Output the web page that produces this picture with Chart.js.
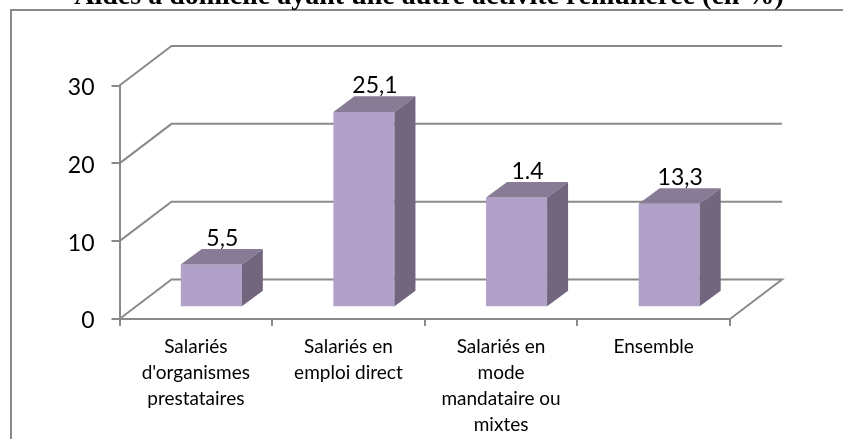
<!DOCTYPE html>
<html>
<head>
<meta charset="utf-8">
<style>
  html, body { margin: 0; padding: 0; background: #fff; overflow: hidden; }
</style>
<script src="https://cdn.jsdelivr.net/npm/chart.js@4"></script>
</head>
<body>
<canvas id="chart" width="843" height="439"></canvas>
<script>
const titleText = "Aides à domicile ayant une autre activité rémunérée (en %)"
const categories = [
  ["Salariés", "d'organismes", "prestataires"],
  ["Salariés en", "emploi direct"],
  ["Salariés en", "mode", "mandataire ou", "mixtes"],
  ["Ensemble"]
]
const values = [5.5, 25.1, 14.1, 13.3]
const valueLabels = ["5,5", "25,1", "1.4", "13,3"]
const yTicks = [0, 10, 20, 30]

// fake 3d
const wallX = 52, wallY = 39.5
const barShiftX = 15.5, barShiftY = -11.7
const barDepthX = 21, barDepthY = 15.6

const lineColor = '#8a8a8a'
const frontColor = '#b1a0c7'
const topColor = '#877b96'
const sideColor = '#72667f'

const fake3d = {
  id: 'fake3d',
  beforeDraw(chart) {
    const ctx = chart.ctx
    ctx.save()
    ctx.strokeStyle = lineColor
    ctx.lineWidth = 2
    ctx.beginPath()
    ctx.moveTo(11, 445)
    ctx.lineTo(11, 10)
    ctx.lineTo(850, 10)
    ctx.stroke()
    ctx.fillStyle = '#000'
    ctx.font = 'bold 28px "Liberation Serif"'
    ctx.textAlign = 'center'
    ctx.textBaseline = 'alphabetic'
    ctx.fillText(titleText, 429, 4)
    ctx.restore()
  },
  beforeDatasetsDraw(chart) {
    const { ctx, scales: { x, y } } = chart
    ctx.save()
    ctx.strokeStyle = lineColor
    ctx.lineWidth = 2
    yTicks.forEach(t => {
      const py = y.getPixelForValue(t)
      ctx.beginPath()
      ctx.moveTo(x.left, py)
      ctx.lineTo(x.left + wallX, py - wallY)
      ctx.lineTo(x.right + wallX, py - wallY)
      if (t === 0) ctx.lineTo(x.right, py)
      ctx.stroke()
    })
    ctx.restore()
    ctx.save()
    ctx.translate(barShiftX, barShiftY)
  },
  afterDatasetsDraw(chart) {
    const ctx = chart.ctx
    chart.getDatasetMeta(0).data.forEach((bar, i) => {
      const l = bar.x - bar.width / 2, r = bar.x + bar.width / 2
      ctx.fillStyle = topColor
      ctx.beginPath()
      ctx.moveTo(l, bar.y)
      ctx.lineTo(l + barDepthX, bar.y - barDepthY)
      ctx.lineTo(r + barDepthX, bar.y - barDepthY)
      ctx.lineTo(r, bar.y)
      ctx.closePath()
      ctx.fill()
      ctx.fillStyle = sideColor
      ctx.beginPath()
      ctx.moveTo(r, bar.y)
      ctx.lineTo(r + barDepthX, bar.y - barDepthY)
      ctx.lineTo(r + barDepthX, bar.base - barDepthY)
      ctx.lineTo(r, bar.base)
      ctx.closePath()
      ctx.fill()
      ctx.fillStyle = '#000'
      ctx.font = '23px Lato'
      ctx.textAlign = 'center'
      ctx.textBaseline = 'alphabetic'
      ctx.fillText(valueLabels[i], bar.x + 11, bar.y - barDepthY - 3)
    })
    ctx.restore()
  }
}

new Chart(document.getElementById('chart'), {
  type: 'bar',
  data: {
    labels: categories,
    datasets: [{
      data: values,
      backgroundColor: frontColor,
      barPercentage: 0.4,
      categoryPercentage: 1
    }]
  },
  options: {
    responsive: false,
    animation: false,
    layout: { padding: { top: 85.5, right: 113, left: 0, bottom: 0 } },
    plugins: { legend: { display: false }, tooltip: { enabled: false } },
    scales: {
      x: {
        afterFit(s) { s.height = 120 },
        border: { color: lineColor, width: 2 },
        grid: { drawOnChartArea: false, color: lineColor, lineWidth: 2, tickLength: 7 },
        ticks: {
          color: '#000',
          font: { family: 'Lato', size: 19, lineHeight: 1.37 },
          maxRotation: 0,
          autoSkip: false,
          padding: 8
        }
      },
      y: {
        min: 0,
        max: 30,
        afterFit(s) { s.width = 119.5 },
        afterBuildTicks(s) { s.ticks = yTicks.map(v => ({ value: v })) },
        border: { color: lineColor, width: 2 },
        grid: { drawOnChartArea: false, color: lineColor, lineWidth: 2, tickLength: 8 },
        ticks: {
          color: '#000',
          font: { family: 'Lato', size: 23 },
          padding: 17,
          labelOffset: 2
        }
      }
    }
  },
  plugins: [fake3d]
})
</script>
</body>
</html>
